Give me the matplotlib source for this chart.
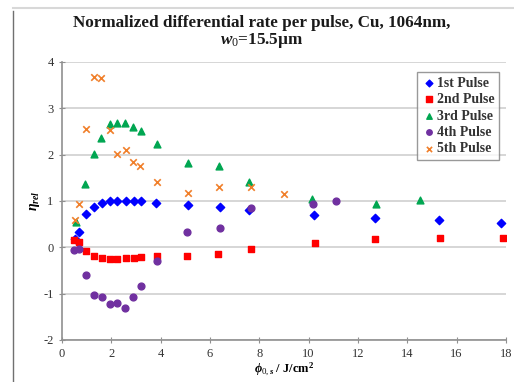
import numpy as np
import matplotlib.pyplot as plt
from matplotlib.lines import Line2D

plt.rcParams['font.family'] = ['Liberation Serif', 'DejaVu Serif']
plt.rcParams['mathtext.fontset'] = 'custom'
plt.rcParams['mathtext.rm'] = 'Liberation Serif'
plt.rcParams['mathtext.it'] = 'Liberation Serif:italic:bold'
plt.rcParams['mathtext.bf'] = 'Liberation Serif:bold'
plt.rcParams['axes.unicode_minus'] = False

# fluence (J/cm^2) and normalized rate per pulse
x1 = [0.53, 0.67, 0.98, 1.28, 1.62, 1.96, 2.25, 2.59, 2.9, 3.2, 3.82, 5.1, 6.39, 7.6, 10.2, 12.69, 15.3, 17.79]
y1 = [0.19, 0.33, 0.71, 0.87, 0.95, 0.99, 1.0, 1.0, 0.99, 0.99, 0.96, 0.91, 0.86, 0.81, 0.70, 0.63, 0.58, 0.52]

x2 = [0.5, 0.67, 0.98, 1.28, 1.62, 1.96, 2.25, 2.59, 2.9, 3.2, 3.85, 5.06, 6.32, 7.66, 10.25, 12.69, 15.33, 17.87]
y2 = [0.15, 0.12, -0.08, -0.18, -0.23, -0.26, -0.26, -0.23, -0.22, -0.2, -0.19, -0.19, -0.14, -0.04, 0.09, 0.17, 0.21, 0.21]

x3 = [0.55, 0.94, 1.28, 1.59, 1.96, 2.25, 2.55, 2.88, 3.19, 3.85, 5.1, 6.37, 7.6, 10.13, 12.74, 14.52]
y3 = [0.55, 1.36, 2.01, 2.37, 2.66, 2.68, 2.68, 2.6, 2.5, 2.22, 1.82, 1.76, 1.40, 1.04, 0.94, 1.03]

x4 = [0.5, 0.67, 0.98, 1.28, 1.62, 1.96, 2.25, 2.55, 2.88, 3.19, 3.85, 5.06, 6.39, 7.66, 10.17, 11.11]
y4 = [-0.05, -0.04, -0.6, -1.02, -1.07, -1.22, -1.2, -1.32, -1.07, -0.84, -0.30, 0.34, 0.41, 0.84, 0.94, 1.01]

x5 = [0.53, 0.69, 0.97, 1.31, 1.59, 1.93, 2.25, 2.58, 2.88, 3.17, 3.85, 5.12, 6.37, 7.68, 9.01]
y5 = [0.6, 0.94, 2.56, 3.68, 3.66, 2.53, 2.02, 2.09, 1.84, 1.75, 1.42, 1.17, 1.30, 1.30, 1.16]

labels = ['1st Pulse', '2nd Pulse', '3rd Pulse', '4th Pulse', '5th Pulse']

fig = plt.figure(figsize=(5.14, 3.82), dpi=100)
ax = fig.add_axes([0.1206, 0.110, 0.8638, 0.7277])

ax.scatter(x1, y1, marker='D', s=18, c='#0000ff', label=labels[0], zorder=3)
ax.scatter(x2, y2, marker='s', s=22, c='#ff0000', label=labels[1], zorder=3)
ax.scatter(x3, y3, marker='^', s=24, c='#00a651', label=labels[2], zorder=3)
ax.scatter(x4, y4, marker='o', s=24, c='#7030a0', label=labels[3], zorder=3)
ax.scatter(x5, y5, marker='x', s=22, c='#f07f2a', linewidths=1.2, label=labels[4], zorder=3)

ax.set_xlim(0, 18)
ax.set_ylim(-2, 4)
ax.set_xticks(np.arange(0, 19, 2))
ax.set_yticks(np.arange(-2, 5, 1))
ax.yaxis.grid(True, color='#d0d0d0', linewidth=1.2)
ax.set_axisbelow(True)
for s in ['top', 'right']:
    ax.spines[s].set_visible(False)
for s in ['left', 'bottom']:
    ax.spines[s].set_color('#909090')
    ax.spines[s].set_linewidth(1.2)
ax.tick_params(direction='inout', length=5, color='#909090', labelsize=9, labelcolor='#333333')

fig.text(0.51, 0.962, 'Normalized differential rate per pulse, Cu, 1064nm,\n$w_0$=15.5\u00b5m',
         ha='center', va='top', fontsize=12.3, fontweight='bold', linespacing=1.05, color='#1a1a1a')
ax.set_xlabel(r'$\phi_{0,s}$ / J/cm$^\mathbf{2}$', fontsize=9, fontweight='bold', labelpad=0)
ax.set_ylabel(r'$\eta_{rel}$', fontsize=10, labelpad=1)

leg = ax.legend(loc='upper right', bbox_to_anchor=(0.985, 0.965),
                prop={'weight': 'bold', 'size': 10}, frameon=True, fancybox=False,
                handletextpad=0.05, borderpad=0.35, labelspacing=0.25, handlelength=1.0,
                scatterpoints=1, borderaxespad=0, markerscale=0.8)
leg.get_frame().set_edgecolor('#808080')
leg.get_frame().set_linewidth(1.0)
for t in leg.get_texts():
    t.set_color('#333333')

# outer frame of the original picture
fig.add_artist(Line2D([0.026, 0.026], [0.0, 0.97], transform=fig.transFigure, color='#707070', lw=1))
fig.add_artist(Line2D([0.026, 1.0], [0.98, 0.98], transform=fig.transFigure, color='#d8d8d8', lw=1.5))

fig.savefig('out.png', dpi=100)
